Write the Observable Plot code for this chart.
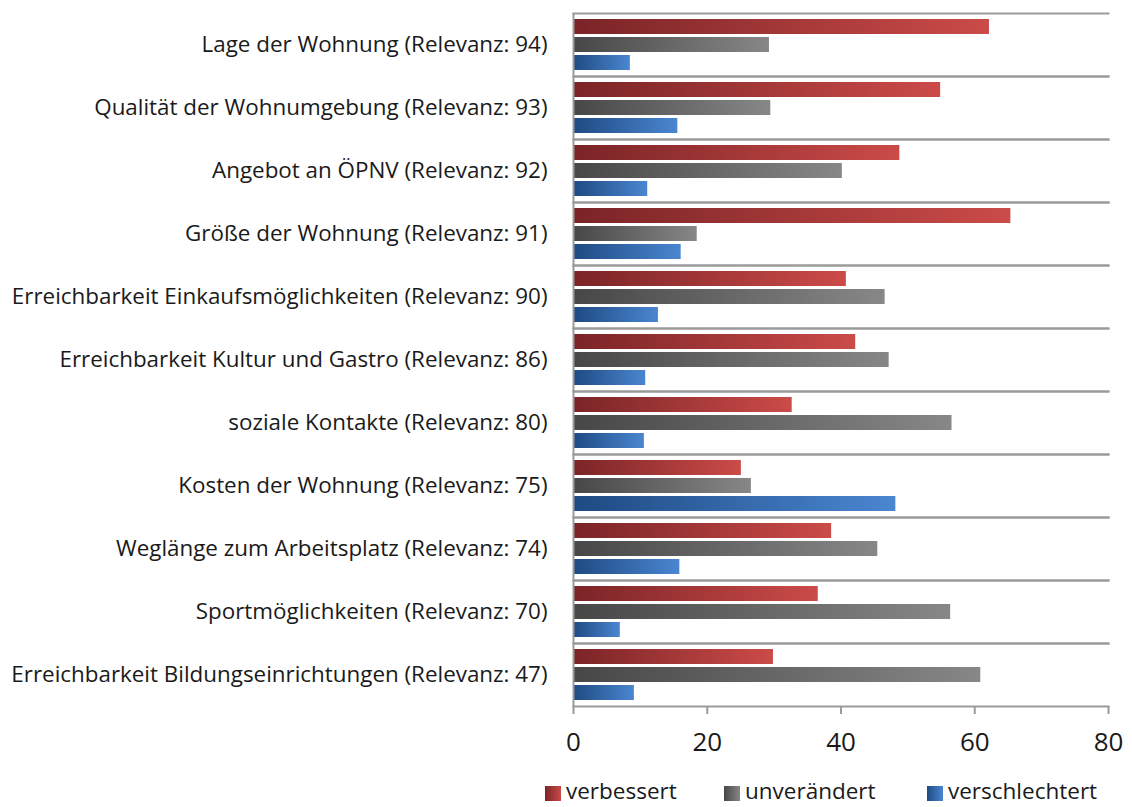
<!DOCTYPE html>
<html>
<head>
<meta charset="utf-8">
<script src="https://cdn.jsdelivr.net/npm/d3@7"></script>
<script src="https://cdn.jsdelivr.net/npm/@observablehq/plot@0.6"></script>
<style>
  html, body { margin: 0; padding: 0; background: #fff; }
  #wrap { position: relative; width: 1132px; height: 807px; font-family: "Open Sans", sans-serif; overflow: hidden; }
  #legend { position: absolute; left: 0; top: 780px; width: 1132px; height: 22px; font-size: 22.5px; color: #1a1a1a; line-height: 22px; }
  .item { position: absolute; top: 0; height: 22px; display: flex; align-items: center; white-space: nowrap; }
  .sw { width: 16px; height: 15px; margin-right: 5px; margin-top: 5px; }
</style>
</head>
<body>
<div id="wrap"><div id="chart"></div><div id="legend"></div></div>
<script>
const categories = [
  "Lage der Wohnung (Relevanz: 94)",
  "Qualität der Wohnumgebung (Relevanz: 93)",
  "Angebot an ÖPNV (Relevanz: 92)",
  "Größe der Wohnung (Relevanz: 91)",
  "Erreichbarkeit Einkaufsmöglichkeiten (Relevanz: 90)",
  "Erreichbarkeit Kultur und Gastro (Relevanz: 86)",
  "soziale Kontakte (Relevanz: 80)",
  "Kosten der Wohnung (Relevanz: 75)",
  "Weglänge zum Arbeitsplatz (Relevanz: 74)",
  "Sportmöglichkeiten (Relevanz: 70)",
  "Erreichbarkeit Bildungseinrichtungen (Relevanz: 47)"
];
const series = ["verbessert", "unverändert", "verschlechtert"];
const verbessert     = [62.2, 54.9, 48.8, 65.4, 40.8, 42.2, 32.7, 25.1, 38.6, 36.6, 29.9];
const unveraendert   = [29.3, 29.5, 40.2, 18.5, 46.6, 47.2, 56.6, 26.6, 45.5, 56.4, 60.9];
const verschlechtert = [8.5, 15.6, 11.1, 16.1, 12.7, 10.8, 10.6, 48.2, 15.9, 7.0, 9.1];
const xTicks = [0, 20, 40, 60, 80];
const legendLeft = [545, 724, 927];

const gradients = [
  {id: "gRed",  from: "#7a2427", to: "#cb4b48"},
  {id: "gGray", from: "#474747", to: "#878787"},
  {id: "gBlue", from: "#1e4a82", to: "#4a86d0"}
];

const seriesValues = [verbessert, unveraendert, verschlechtert];
const rows = [];
categories.forEach((c, i) => series.forEach((s, j) => rows.push({category: c, series: s, value: seriesValues[j][i]})));

const chart = Plot.plot({
  width: 1132,
  height: 775,
  marginLeft: 573,
  marginRight: 24,
  marginTop: 13,
  marginBottom: 69,
  style: {fontFamily: "'Open Sans', sans-serif", color: "#1a1a1a", background: "#fff"},
  x: {domain: [0, 80]},
  fy: {domain: categories, padding: 0},
  y: {domain: series, paddingInner: 0.158, paddingOuter: 0.237},
  color: {domain: series, range: gradients.map(g => `url(#${g.id})`)},
  marks: [
    Plot.barX(rows, {x: "value", y: "series", fy: "category", fill: "series"}),
    Plot.frame({anchor: "top", stroke: "#9a9a9a", strokeWidth: 2}),
    Plot.frame({anchor: "bottom", stroke: "#9a9a9a", strokeWidth: 2}),
    Plot.ruleX([0], {stroke: "#9a9a9a", strokeWidth: 2}),
    Plot.axisY({ticks: [], label: null}),
    Plot.axisFy({anchor: "left", tickSize: 0, tickPadding: 26, fontSize: 22.4, label: null}),
    Plot.axisX({anchor: "bottom", ticks: xTicks, tickSize: 8, tickPadding: 18, fontSize: 26, stroke: "#9a9a9a", strokeWidth: 2, label: null})
  ]
});

// gradient definitions
const ns = "http://www.w3.org/2000/svg";
const defs = document.createElementNS(ns, "defs");
gradients.forEach(g => {
  const lg = document.createElementNS(ns, "linearGradient");
  lg.setAttribute("id", g.id);
  lg.setAttribute("x1", "0"); lg.setAttribute("x2", "1"); lg.setAttribute("y1", "0"); lg.setAttribute("y2", "0");
  [[0, g.from], [1, g.to]].forEach(([o, c]) => {
    const st = document.createElementNS(ns, "stop");
    st.setAttribute("offset", o);
    st.setAttribute("stop-color", c);
    lg.appendChild(st);
  });
  defs.appendChild(lg);
});
chart.insertBefore(defs, chart.firstChild);
document.getElementById("chart").appendChild(chart);

const legend = document.getElementById("legend");
series.forEach((s, j) => {
  const it = document.createElement("div");
  it.className = "item";
  it.style.left = legendLeft[j] + "px";
  const sw = document.createElement("div");
  sw.className = "sw";
  sw.style.background = `linear-gradient(to right, ${gradients[j].from}, ${gradients[j].to})`;
  const t = document.createElement("span");
  t.textContent = s;
  it.appendChild(sw); it.appendChild(t);
  legend.appendChild(it);
});
</script>
</body>
</html>
